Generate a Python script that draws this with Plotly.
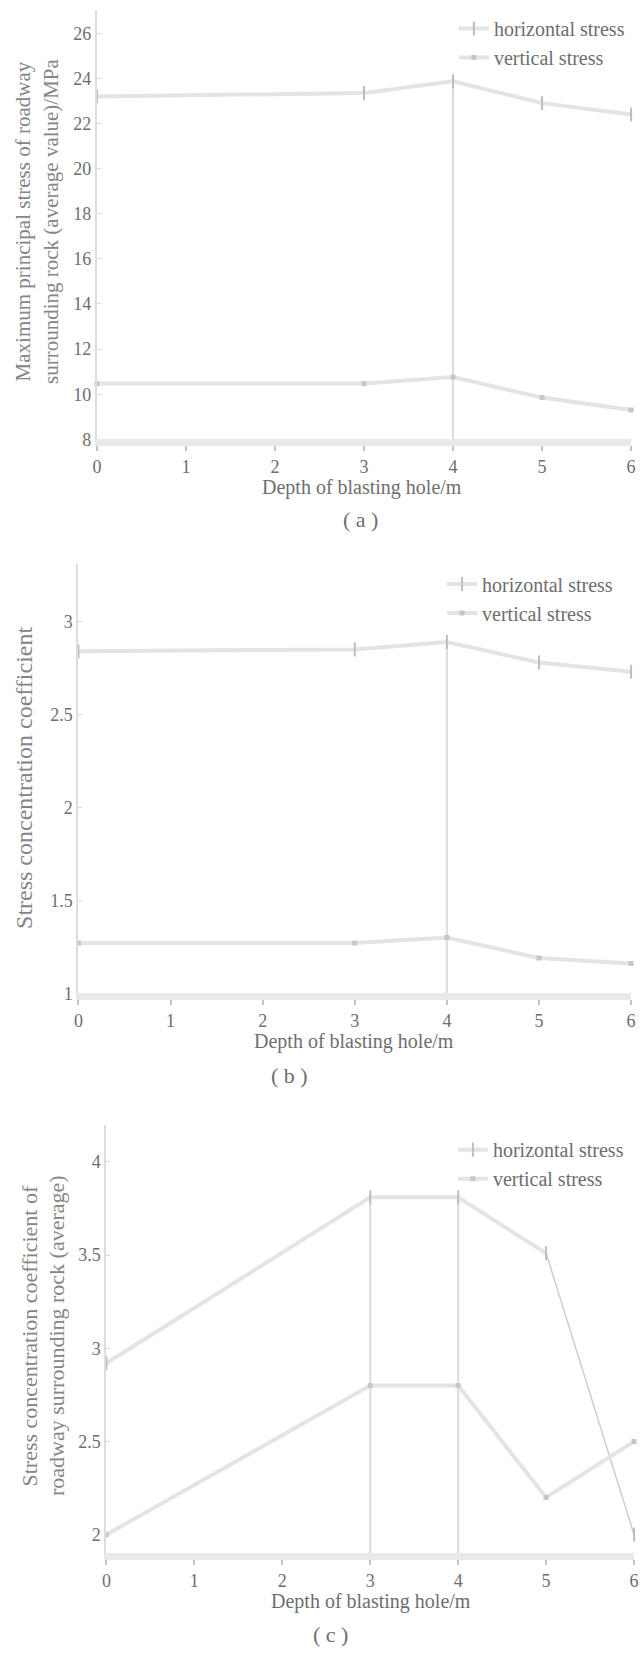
import plotly.graph_objects as go

# ---------------- data ----------------
depth = [0, 3, 4, 5, 6]
x_tick_vals = [0, 1, 2, 3, 4, 5, 6]

a_horizontal = [23.2, 23.35, 23.87, 22.9, 22.4]
a_vertical = [10.47, 10.47, 10.76, 9.85, 9.3]

b_horizontal = [2.84, 2.85, 2.89, 2.78, 2.73]
b_vertical = [1.27, 1.27, 1.30, 1.19, 1.16]

c_horizontal = [2.92, 3.81, 3.81, 3.51, 2.0]
c_vertical = [2.0, 2.8, 2.8, 2.2, 2.5]

a_yticks = [8, 10, 12, 14, 16, 18, 20, 22, 24, 26]
b_yticks = [1, 1.5, 2, 2.5, 3]
c_yticks = [2, 2.5, 3, 3.5, 4]

series_names = ["horizontal stress", "vertical stress"]
x_title = "Depth of blasting hole/m"

# ---------------- styling ----------------
W, H = 642, 1660
FONT = "Liberation Serif"
TXT = "#6e6e6e"
LINE = "#e4e4e4"
MARK = "#bdbdbd"
DROP = "#dcdcdc"


def px_x(p):
    return p / W


def px_y(p):
    return 1 - p / H


fig = go.Figure()

panels = [
    dict(s="", o="4", leg="legend", xd=(93.4, 636), yd=(10.7, 442), yr=[8, 27], yt=a_yticks,
         top=a_horizontal, bot=a_vertical, drops=[2], thin_last=False),
    dict(s="2", o="5", leg="legend2", xd=(74.6, 636), yd=(567.3, 999.3), yr=[1, 3.31], yt=b_yticks,
         top=b_horizontal, bot=b_vertical, drops=[2], thin_last=False),
    dict(s="3", o="6", leg="legend3", xd=(103, 639), yd=(1131.5, 1562.7), yr=[1.9, 4.2], yt=c_yticks,
         top=c_horizontal, bot=c_vertical, drops=[1, 2], thin_last=True),
]

hmarker = dict(symbol="line-ns-open", size=10, color=MARK, line=dict(color=MARK, width=2))
vmarker = dict(symbol="square", size=5, color="#c6c6c6")

for p in panels:
    xa = "x" + p["s"]
    ya = "y" + p["s"]
    y0 = p["yr"][0]
    for i in p["drops"]:
        fig.add_trace(go.Scatter(
            x=[depth[i], depth[i]], y=[y0, p["top"][i]], mode="lines",
            line=dict(color=DROP, width=2), showlegend=False, hoverinfo="skip",
            xaxis=xa, yaxis=ya, cliponaxis=False))
    n_main = len(depth) - 1 if p["thin_last"] else len(depth)
    if p["thin_last"]:
        fig.add_trace(go.Scatter(
            x=depth[n_main - 1:], y=p["top"][n_main - 1:], mode="lines",
            line=dict(color="#cdcdcd", width=1.5), showlegend=False, hoverinfo="skip",
            xaxis=xa, yaxis=ya, cliponaxis=False))
    fig.add_trace(go.Scatter(
        x=depth[:n_main], y=p["top"][:n_main], mode="lines+markers", name=series_names[0],
        line=dict(color=LINE, width=4), marker=hmarker,
        legend=p["leg"], xaxis=xa, yaxis=ya, cliponaxis=False))
    if p["thin_last"]:
        fig.add_trace(go.Scatter(
            x=depth[n_main:], y=p["top"][n_main:], mode="markers", marker=hmarker,
            showlegend=False, xaxis=xa, yaxis=ya, cliponaxis=False))
    fig.add_trace(go.Scatter(
        x=depth, y=p["bot"], mode="lines+markers", name=series_names[1],
        line=dict(color=LINE, width=4), marker=vmarker,
        legend=p["leg"], xaxis=xa, yaxis=ya, cliponaxis=False))

    xdom = [px_x(p["xd"][0]), px_x(p["xd"][1])]
    fig.update_layout({
        "xaxis" + p["s"]: dict(domain=xdom, range=[0, 6],
                               anchor=ya, showgrid=False, zeroline=False,
                               showline=True, linecolor="#e9e9e9", linewidth=7,
                               ticks="outside", ticklen=5, tickwidth=2, tickcolor="#c4c4c4",
                               tickvals=x_tick_vals, ticktext=[str(v) for v in x_tick_vals],
                               tickfont=dict(family=FONT, size=18, color=TXT)),
        "xaxis" + p["o"]: dict(domain=xdom, range=[0, 6], overlaying=xa,
                               anchor=ya, showgrid=False, zeroline=False, showline=False,
                               ticks="inside", ticklen=7, tickwidth=2, tickcolor="#c4c4c4",
                               tickvals=x_tick_vals, showticklabels=False),
        "yaxis" + p["s"]: dict(domain=[px_y(p["yd"][1]), px_y(p["yd"][0])], range=p["yr"],
                               anchor=xa, showgrid=False, zeroline=False,
                               showline=True, linecolor="#dddddd", linewidth=2,
                               ticks="inside", ticklen=4, tickwidth=1, tickcolor="#d8d8d8",
                               tickvals=p["yt"], ticktext=[("%g" % v) for v in p["yt"]],
                               tickfont=dict(family=FONT, size=18, color=TXT)),
    })

legend_common = dict(bgcolor="rgba(0,0,0,0)", borderwidth=0, xanchor="left", yanchor="top",
                     font=dict(family=FONT, size=20, color=TXT), tracegroupgap=0,
                     itemwidth=30)
fig.update_layout(
    legend=dict(x=px_x(456), y=px_y(9), **legend_common),
    legend2=dict(x=px_x(444), y=px_y(568), **legend_common),
    legend3=dict(x=px_x(455), y=px_y(1137), **legend_common),
)

ann = []


def text(x, y, s, size=20, angle=0, color=TXT):
    ann.append(dict(x=px_x(x), y=px_y(y), xref="paper", yref="paper", text=s,
                    showarrow=False, xanchor="center", yanchor="middle", textangle=angle,
                    font=dict(family=FONT, size=size, color=color)))


text(363, 490, x_title)
text(361, 523, "( a )", size=22)
text(355, 1048, x_title)
text(289, 1082, "( b )", size=22)
text(372, 1611, x_title)
text(331, 1644, "( c )", size=22)

YT = "#858585"
text(18, 223, "Maximum principal stress of roadway", size=21, angle=-90, color=YT)
text(46, 223, "surrounding rock (average value)/MPa", size=21, angle=-90, color=YT)
text(20, 783, "Stress concentration coefficient", size=24, angle=-90, color=YT)
text(25, 1344, "Stress concentration coefficient of", size=22, angle=-90, color=YT)
text(53, 1344, "roadway surrounding rock (average)", size=22, angle=-90, color=YT)

fig.update_layout(
    width=W, height=H, autosize=False,
    margin=dict(l=0, r=0, t=0, b=0, pad=0),
    paper_bgcolor="white", plot_bgcolor="white",
    annotations=ann,
)

fig.write_html("out.html")
